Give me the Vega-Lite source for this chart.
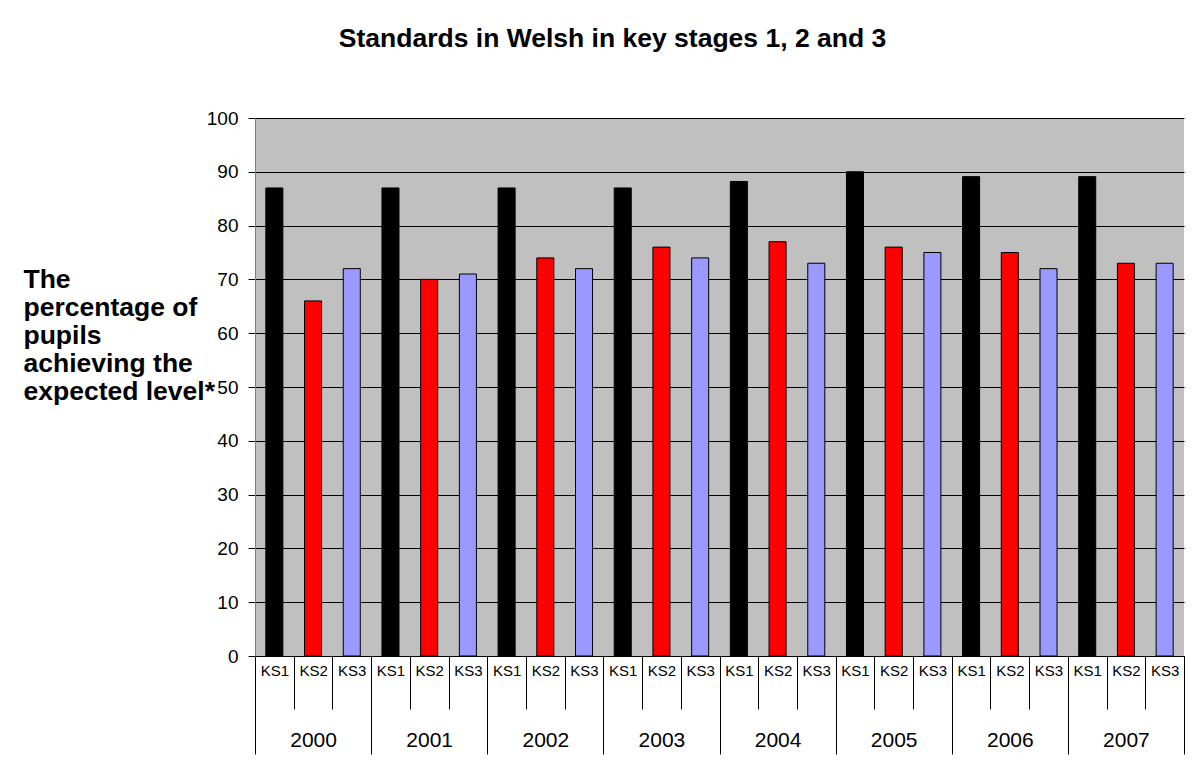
{
  "$schema": "https://vega.github.io/schema/vega-lite/v6.json",
  "autosize": {"type": "none"},
  "width": 929,
  "height": 538,
  "padding": {"left": 255, "top": 118, "right": 10, "bottom": 113},
  "background": "#ffffff",
  "title": {
    "text": "Standards in Welsh in key stages 1, 2 and 3",
    "font": "Liberation Sans",
    "fontSize": 26.5,
    "fontWeight": "bold",
    "color": "#000000",
    "anchor": "middle",
    "frame": "group",
    "dx": -107,
    "offset": 57
  },
  "config": {
    "view": {"fill": "#c0c0c0", "stroke": null},
    "font": "Liberation Sans"
  },
  "data": {
    "values": [
      {"year": "2000", "ks": "KS1", "key": "2000 KS1", "value": 87},
      {"year": "2000", "ks": "KS2", "key": "2000 KS2", "value": 66},
      {"year": "2000", "ks": "KS3", "key": "2000 KS3", "value": 72},
      {"year": "2001", "ks": "KS1", "key": "2001 KS1", "value": 87},
      {"year": "2001", "ks": "KS2", "key": "2001 KS2", "value": 70},
      {"year": "2001", "ks": "KS3", "key": "2001 KS3", "value": 71},
      {"year": "2002", "ks": "KS1", "key": "2002 KS1", "value": 87},
      {"year": "2002", "ks": "KS2", "key": "2002 KS2", "value": 74},
      {"year": "2002", "ks": "KS3", "key": "2002 KS3", "value": 72},
      {"year": "2003", "ks": "KS1", "key": "2003 KS1", "value": 87},
      {"year": "2003", "ks": "KS2", "key": "2003 KS2", "value": 76},
      {"year": "2003", "ks": "KS3", "key": "2003 KS3", "value": 74},
      {"year": "2004", "ks": "KS1", "key": "2004 KS1", "value": 88.2},
      {"year": "2004", "ks": "KS2", "key": "2004 KS2", "value": 77},
      {"year": "2004", "ks": "KS3", "key": "2004 KS3", "value": 73},
      {"year": "2005", "ks": "KS1", "key": "2005 KS1", "value": 90},
      {"year": "2005", "ks": "KS2", "key": "2005 KS2", "value": 76},
      {"year": "2005", "ks": "KS3", "key": "2005 KS3", "value": 75},
      {"year": "2006", "ks": "KS1", "key": "2006 KS1", "value": 89.1},
      {"year": "2006", "ks": "KS2", "key": "2006 KS2", "value": 75},
      {"year": "2006", "ks": "KS3", "key": "2006 KS3", "value": 72},
      {"year": "2007", "ks": "KS1", "key": "2007 KS1", "value": 89.1},
      {"year": "2007", "ks": "KS2", "key": "2007 KS2", "value": 73},
      {"year": "2007", "ks": "KS3", "key": "2007 KS3", "value": 73}
    ]
  },
  "layer": [
    {
      "mark": {"type": "bar", "opacity": 0},
      "encoding": {
        "x": {
          "field": "year",
          "type": "nominal",
          "sort": null,
          "scale": {"paddingInner": 0, "paddingOuter": 0},
          "axis": {
            "orient": "bottom",
            "title": null,
            "domain": false,
            "grid": false,
            "tickBand": "extent",
            "tickSize": 98,
            "tickColor": "#000000",
            "tickWidth": 1,
            "labelAngle": 0,
            "labelFontSize": 21,
            "labelColor": "#000000",
            "labelPadding": -25,
            "labelOverlap": false
          }
        }
      }
    },
    {
      "mark": {"type": "bar", "width": {"band": 0.44}, "stroke": "#000000", "strokeWidth": 1},
      "encoding": {
        "x": {
          "field": "key",
          "type": "nominal",
          "sort": null,
          "scale": {"paddingInner": 0, "paddingOuter": 0},
          "axis": {
            "orient": "bottom",
            "title": null,
            "domainColor": "#000000",
            "grid": false,
            "tickBand": "extent",
            "tickSize": 53,
            "tickColor": "#000000",
            "labelExpr": "split(datum.label, ' ')[1]",
            "labelAngle": 0,
            "labelFontSize": 15,
            "labelColor": "#000000",
            "labelPadding": -46,
            "labelOverlap": false
          }
        },
        "y": {
          "field": "value",
          "type": "quantitative",
          "scale": {"domain": [0, 100], "nice": false, "zero": true},
          "axis": {
            "values": [0, 10, 20, 30, 40, 50, 60, 70, 80, 90, 100],
            "title": ["The", "percentage of", "pupils", "achieving the", "expected level*"],
            "titleAngle": 0,
            "titleAlign": "left",
            "titleBaseline": "alphabetic",
            "titleX": -232,
            "titleY": 169,
            "titleFontSize": 26.5,
            "titleFontWeight": "bold",
            "titleLineHeight": 28,
            "titleColor": "#000000",
            "labelFontSize": 19,
            "labelColor": "#000000",
            "labelPadding": 10,
            "tickSize": 7,
            "tickColor": "#000000",
            "domainColor": "#808080",
            "grid": true,
            "gridColor": "#000000",
            "gridWidth": 1
          }
        },
        "color": {
          "field": "ks",
          "type": "nominal",
          "scale": {"domain": ["KS1", "KS2", "KS3"], "range": ["#000000", "#ff0000", "#9999ff"]},
          "legend": null
        }
      }
    }
  ],
  "resolve": {"scale": {"x": "independent"}, "axis": {"x": "independent"}}
}
